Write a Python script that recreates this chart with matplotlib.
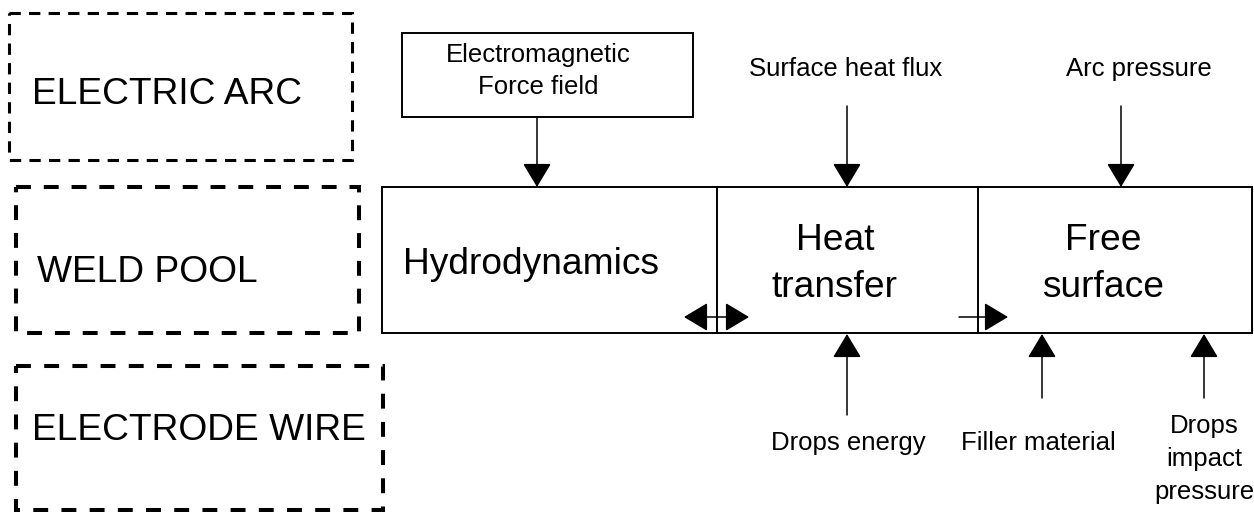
import matplotlib.pyplot as plt
from matplotlib.patches import Rectangle, FancyArrowPatch

plt.rcParams['font.family'] = ['Liberation Sans', 'DejaVu Sans']

# Etiquetas de las zonas (cajas discontinuas)
zonas = ["ELECTRIC ARC", "WELD POOL", "ELECTRODE WIRE"]
# Bloques del modelo del baño
bloques = ["Hydrodynamics", "Heat\ntransfer", "Free\nsurface"]
# Entradas de arriba y de abajo
entradas_arriba = ["Electromagnetic\nForce field", "Surface heat flux", "Arc pressure"]
entradas_abajo = ["Drops energy", "Filler material", "Drops\nimpact\npressure"]

fig = plt.figure(figsize=(12.54, 5.12), dpi=100)
ax = fig.add_axes([0, 0, 1, 1])
ax.set_xlim(0, 1254)
ax.set_ylim(512, 0)
ax.axis('off')


def flecha(x0, y0, x1, y1):
    ax.add_patch(FancyArrowPatch((x0, y0), (x1, y1),
                                 arrowstyle='-|>,head_length=1.0,head_width=0.6',
                                 mutation_scale=15, lw=1.1, color='black',
                                 shrinkA=0, shrinkB=0))


# Cajas discontinuas
ax.add_patch(Rectangle((9, 13), 343, 147, fill=False, lw=2.2,
                       ls=(0, (3.7, 2.7)), ec='black'))
ax.add_patch(Rectangle((16, 187), 343, 146, fill=False, lw=2.9,
                       ls=(0, (3.7, 3.2)), ec='black'))
ax.add_patch(Rectangle((16, 366), 367, 144, fill=False, lw=2.9,
                       ls=(0, (3.7, 3.3)), ec='black'))
ax.text(32, 95, zonas[0], fontsize=26.7, va='center', ha='left')
ax.text(37, 273, zonas[1], fontsize=26.7, va='center', ha='left')
ax.text(32, 431, zonas[2], fontsize=26.7, va='center', ha='left')

# Caja principal y divisiones
ax.add_patch(Rectangle((382, 187), 870, 146, fill=False, lw=1.4, ec='black'))
ax.plot([717, 717], [187, 333], color='black', lw=1.4)
ax.plot([978, 978], [187, 333], color='black', lw=1.4)
ax.text(403, 265, bloques[0], fontsize=26.7, va='center', ha='left')
ax.text(835, 264, bloques[1], fontsize=26.7, va='center', ha='center',
        linespacing=1.42)
ax.text(1103, 264, bloques[2], fontsize=26.7, va='center', ha='center',
        linespacing=1.42)

# Caja electromagnetica
ax.add_patch(Rectangle((402, 33), 291, 84, fill=False, lw=1.4, ec='black'))
ax.text(538, 71, entradas_arriba[0], fontsize=18.5, va='center', ha='center',
        linespacing=1.45)
flecha(537, 117, 537, 187)

ax.text(846, 69, entradas_arriba[1], fontsize=18.5, va='center', ha='center')
flecha(847, 106, 847, 187)
ax.text(1139, 69, entradas_arriba[2], fontsize=18.5, va='center', ha='center')
flecha(1121, 106, 1121, 187)

# Flechas horizontales
flecha(717, 317, 684, 317)
flecha(717, 317, 749, 317)
flecha(959, 317, 1008, 317)

# Entradas de abajo
flecha(847, 415, 847, 334)
ax.text(848, 443, entradas_abajo[0], fontsize=18.5, va='center', ha='center')
flecha(1042, 398, 1042, 334)
ax.text(1038, 443, entradas_abajo[1], fontsize=18.5, va='center', ha='center')
flecha(1204, 398, 1204, 334)
ax.text(1204, 459, entradas_abajo[2], fontsize=18.5, va='center', ha='center',
        linespacing=1.45)

fig.savefig("out.png", dpi=100)
